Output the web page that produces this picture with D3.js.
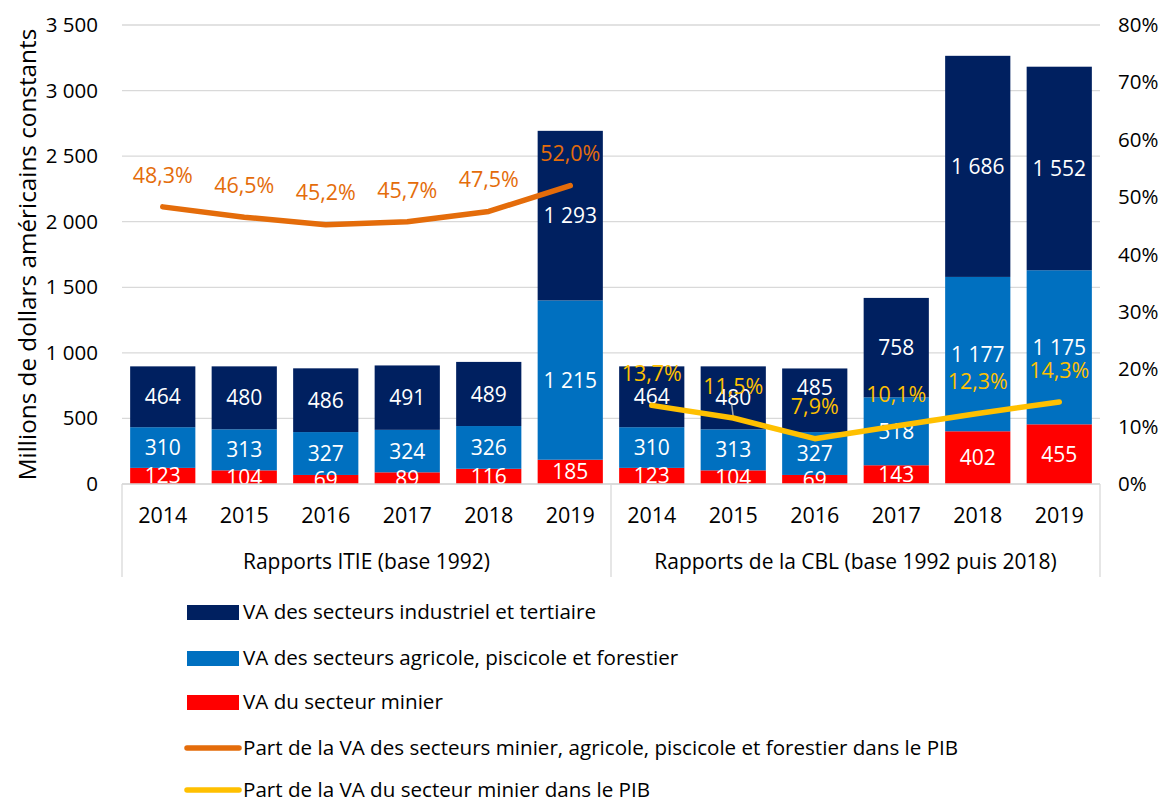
<!DOCTYPE html>
<html><head><meta charset="utf-8">
<script src="https://cdn.jsdelivr.net/npm/d3@7"></script>
<style>body{margin:0;background:#fff;} text{font-family:"Open Sans",sans-serif;}</style>
</head><body>
<svg id="c" width="1173" height="801"></svg>
<script>
const years = ["2014","2015","2016","2017","2018","2019"];
const groups = ["Rapports ITIE (base 1992)", "Rapports de la CBL (base 1992 puis 2018)"];
const minier = [123,104,69,89,116,185, 123,104,69,143,402,455];
const agricole = [310,313,327,324,326,1215, 310,313,327,518,1177,1175];
const industriel = [464,480,486,491,489,1293, 464,480,485,758,1686,1552];
const partLarge = [48.3,46.5,45.2,45.7,47.5,52.0]; // ITIE categories
const partMinier = [13.7,11.5,7.9,10.1,12.3,14.3]; // CBL categories
const leftTicks = [0,500,1000,1500,2000,2500,3000,3500];
const rightTicks = [0,10,20,30,40,50,60,70,80];
const seriesNames = ["VA des secteurs industriel et tertiaire","VA des secteurs agricole, piscicole et forestier","VA du secteur minier",
 "Part de la VA des secteurs minier, agricole, piscicole et forestier dans le PIB","Part de la VA du secteur minier dans le PIB"];
const colors = {ind:"#002060", agr:"#0070C0", min:"#FF0000", orange:"#E46C0A", yellow:"#FFC000"};

const svg = d3.select("#c");
const L=122, R=1100, T=25, B=484;
const cats = d3.range(12);
const x = d3.scaleBand().domain(cats).range([L,R]).paddingInner(0.2).paddingOuter(0.1);
const y = d3.scaleLinear().domain([0,3500]).range([B,T]);
const y2 = d3.scaleLinear().domain([0,80]).range([B,T]);
const fmt = v => d3.format(",")(v).replace(/,/g," ");
const pct = v => v.toFixed(1).replace(".",",")+"%";
const cx = i => x(i)+x.bandwidth()/2;

// gridlines
svg.append("g").selectAll("line").data(leftTicks).join("line")
  .attr("x1",L).attr("x2",R).attr("y1",d=>y(d)).attr("y2",d=>y(d))
  .attr("stroke","#D9D9D9").attr("stroke-width",1.3);

// left axis
const ga = svg.append("g").attr("transform",`translate(${L},0)`)
  .call(d3.axisLeft(y).tickValues(leftTicks).tickSize(0).tickPadding(24).tickFormat(fmt));
ga.select(".domain").remove();
ga.selectAll("text").attr("font-size",20.5).attr("fill","#000").attr("font-family","'Open Sans'");
// right axis
const gr = svg.append("g").attr("transform",`translate(${R},0)`)
  .call(d3.axisRight(y2).tickValues(rightTicks).tickSize(0).tickPadding(18).tickFormat(d=>d+"%"));
gr.select(".domain").remove();
gr.selectAll("text").attr("font-size",20.5).attr("fill","#000").attr("font-family","'Open Sans'");

// y title
svg.append("text").attr("transform",`translate(27,${(T+B)/2}) rotate(-90)`)
  .attr("text-anchor","middle").attr("dy","0.36em").attr("font-size",24.3).text("Millions de dollars américains constants");

// stacked bars
const rows = cats.map(i=>({i, min:minier[i], agr:agricole[i], ind:industriel[i]}));
const stack = d3.stack().keys(["min","agr","ind"])(rows);
svg.append("defs").append("clipPath").attr("id","plot").append("rect")
  .attr("x",L).attr("y",0).attr("width",R-L).attr("height",B);
const gb = svg.append("g");
stack.forEach(s=>{
  gb.append("g").selectAll("rect").data(s).join("rect")
    .attr("x",d=>x(d.data.i)).attr("width",x.bandwidth())
    .attr("y",d=>y(d[1])).attr("height",d=>y(d[0])-y(d[1]))
    .attr("fill",colors[s.key]);
});
// the 2016 CBL top label was moved up in the original to clear the line label
const nudge = (key,i) => (key==="ind" && i===8) ? -13 : 0;
const gl = svg.append("g").attr("clip-path","url(#plot)");
stack.forEach(s=>{
  gl.append("g").selectAll("text").data(s).join("text")
    .attr("x",d=>cx(d.data.i)).attr("y",d=>(y(d[0])+y(d[1]))/2 + nudge(s.key,d.data.i))
    .attr("dy","0.36em").attr("text-anchor","middle").attr("fill","#fff").attr("font-size",21)
    .text(d=>fmt(d.data[s.key]));
});

// baseline
svg.append("line").attr("x1",L).attr("x2",R).attr("y1",B).attr("y2",B).attr("stroke","#D9D9D9").attr("stroke-width",1.3);
// category separators
[L,(L+R)/2,R].forEach(xx=>svg.append("line").attr("x1",xx).attr("x2",xx).attr("y1",B).attr("y2",577)
  .attr("stroke","#D9D9D9").attr("stroke-width",1.3));
// year labels
svg.append("g").selectAll("text").data(cats).join("text")
  .attr("x",d=>cx(d)).attr("y",515).attr("dy","0.36em")
  .attr("text-anchor","middle").attr("font-size",21.5).text(d=>years[d%6]);
svg.append("g").selectAll("text").data(groups).join("text")
  .attr("x",(d,i)=>L+(R-L)/4*(1+2*i)).attr("y",561).attr("dy","0.36em")
  .attr("text-anchor","middle").attr("font-size",21).text(d=>d);

// lines
const line = d3.line().x(d=>cx(d.i)).y(d=>y2(d.v));
const oData = partLarge.map((v,k)=>({i:k, v}));
const yData = partMinier.map((v,k)=>({i:k+6, v}));
// leader line of the 2015 CBL percentage label
svg.append("line").attr("x1",cx(7)).attr("x2",cx(7)-1.5).attr("y1",y2(partMinier[1])-1).attr("y2",y2(partMinier[1])-13)
  .attr("stroke","#A6A6A6").attr("stroke-width",1.5);
svg.append("path").datum(oData).attr("d",line).attr("fill","none").attr("stroke",colors.orange)
  .attr("stroke-width",5.5).attr("stroke-linecap","round").attr("stroke-linejoin","round");
svg.append("path").datum(yData).attr("d",line).attr("fill","none").attr("stroke",colors.yellow)
  .attr("stroke-width",5.5).attr("stroke-linecap","round").attr("stroke-linejoin","round");
svg.append("g").selectAll("text").data(oData).join("text")
  .attr("x",d=>cx(d.i)).attr("y",d=>y2(d.v)-32).attr("dy","0.36em")
  .attr("text-anchor","middle").attr("font-size",21.5).attr("fill",colors.orange).text(d=>pct(d.v));
svg.append("g").selectAll("text").data(yData).join("text")
  .attr("x",d=>cx(d.i)).attr("y",d=>y2(d.v)-32).attr("dy","0.36em")
  .attr("text-anchor","middle").attr("font-size",21.5).attr("fill",colors.yellow).text(d=>pct(d.v));

// legend
const legY = [612,658,702,748,790];
const lg = svg.append("g");
seriesNames.forEach((n,k)=>{
  const yy = legY[k];
  if(k<3){
    lg.append("rect").attr("x",187).attr("y",yy-7).attr("width",52).attr("height",15)
      .attr("fill",[colors.ind,colors.agr,colors.min][k]);
  } else {
    lg.append("line").attr("x1",187).attr("x2",239).attr("y1",yy).attr("y2",yy)
      .attr("stroke",k==3?colors.orange:colors.yellow).attr("stroke-width",5.5).attr("stroke-linecap","round");
  }
  lg.append("text").attr("x",243).attr("y",yy).attr("dy","0.36em").attr("font-size",20.6).text(n);
});
</script>
</body></html>
